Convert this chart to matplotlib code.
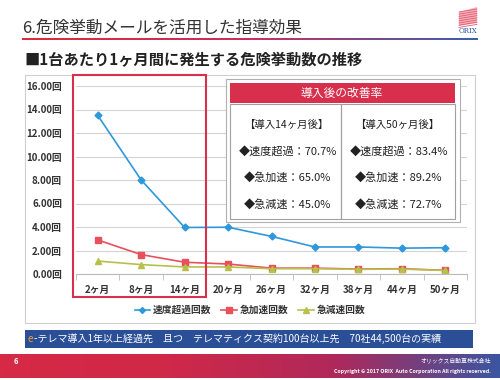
import numpy as np
import matplotlib
matplotlib.use('Agg')
import matplotlib.pyplot as plt
from matplotlib.patches import Rectangle, Polygon
from matplotlib.colors import LinearSegmentedColormap
from matplotlib.lines import Line2D

plt.rcParams['font.family'] = ['Noto Sans CJK JP', 'DejaVu Sans']

### DATA ###
months = ['2ヶ月', '8ヶ月', '14ヶ月', '20ヶ月', '26ヶ月', '32ヶ月', '38ヶ月', '44ヶ月', '50ヶ月']
speed = [13.5, 8.0, 3.96, 3.98, 3.2, 2.3, 2.3, 2.2, 2.24]
accel = [2.9, 1.65, 1.0, 0.85, 0.5, 0.5, 0.42, 0.45, 0.31]
decel = [1.1, 0.8, 0.6, 0.6, 0.45, 0.45, 0.4, 0.42, 0.3]
series_names = ['速度超過回数', '急加速回数', '急減速回数']
yticks = [0, 2, 4, 6, 8, 10, 12, 14, 16]

kinds = ['速度超過', '急加速', '急減速']
improve_14 = [70.7, 65.0, 45.0]
improve_50 = [83.4, 89.2, 72.7]

title = '6.危険挙動メールを活用した指導効果'
subtitle = '■1台あたり1ヶ月間に発生する危険挙動数の推移'
banner = '-テレマ導入1年以上経過先　且つ　テレマティクス契約100台以上先　70社44,500台の実績'

blue = '#2f97dc'
red = '#e8505b'
olive = '#b8c04a'
crimson = '#d8304c'

fig = plt.figure(figsize=(5, 3.8), dpi=100)

# background layer in pixel coordinates
bg = fig.add_axes([0, 0, 1, 1], zorder=0)
bg.axis('off')

bg.text(22, 28, title, fontsize=12, color='#333333', va='center', ha='left')
line_cmap = LinearSegmentedColormap.from_list('ul', ['#e02a3a', '#c83060', '#3a5fb0'])
bg.imshow(np.linspace(0, 1, 200).reshape(1, -1), cmap=line_cmap, aspect='auto',
          extent=(22, 478, 40, 38.5))
# ORIX logo
bg.add_patch(Polygon([(459, 12), (477, 7), (477, 23), (459, 26)], closed=True,
                     facecolor='#f4b0ba', edgecolor='none'))
for yy in np.arange(9, 25, 2.2):
    bg.plot([459, 477], [yy + 3, yy], color='#e45a70', lw=0.6)
bg.text(468, 31, 'ORIX', fontsize=5, color='#2a55a0', ha='center', va='center', family='DejaVu Serif')

bg.text(24, 60, subtitle, fontsize=11, fontweight='bold', color='#222222', va='center', ha='left')

# chart frame
bg.add_patch(Rectangle((25, 75), 450, 248, facecolor='white', edgecolor='#cfcfcf', lw=0.8))

# banner
bg.add_patch(Rectangle((25, 330), 448, 18, facecolor='#2b4f96', edgecolor='none'))
bg.text(28, 339, 'e', fontsize=7.3, color='#f0a030', va='center', ha='left')
bg.text(33.5, 339, banner, fontsize=7.2, color='white', va='center', ha='left')

# footer
foot_cmap = LinearSegmentedColormap.from_list('ft', ['#d62a45', '#d02848', '#b0285a', '#3c55a0'])
bg.imshow(np.linspace(0, 1, 300).reshape(1, -1), cmap=foot_cmap, aspect='auto',
          extent=(0, 500, 378, 354))
bg.set_xlim(0, 500)
bg.set_ylim(380, 0)
bg.text(14, 361, '6', fontsize=5.5, color='white', fontweight='bold', style='italic', va='center')
bg.text(491, 361, 'オリックス自動車株式会社', fontsize=4.2, color='white', ha='right', va='center')
bg.text(491, 371, 'Copyright © 2017 ORIX  Auto Corporation All rights reserved.', fontsize=3.8,
        color='white', ha='right', va='center', style='italic', fontweight='bold')

# line chart
ax = fig.add_axes([76 / 500, 1 - 274 / 380, 391 / 500, 188 / 380], zorder=1)
ax.patch.set_alpha(0)
x = np.arange(len(months))
ax.plot(x, speed, color=blue, marker='D', markersize=3.5, lw=1.2, label=series_names[0])
ax.plot(x, accel, color=red, marker='s', markersize=5, lw=1.2, label=series_names[1])
ax.plot(x, decel, color=olive, marker='^', markersize=4.5, lw=1.2, label=series_names[2])
ax.set_xlim(-0.5, len(months) - 0.5)
ax.set_ylim(0, 16)
ax.set_yticks(yticks)
ax.set_yticklabels(['%.2f回' % v for v in yticks], fontsize=7, fontweight='bold', color='#333333')
ax.set_xticks(x)
ax.set_xticklabels(months, fontsize=7, fontweight='bold', color='#333333')
ax.set_xticks(np.arange(-0.5, len(months)), minor=True)
ax.tick_params(axis='y', length=0, pad=10)
ax.tick_params(axis='x', which='major', length=0, pad=8)
ax.tick_params(axis='x', which='minor', length=4, color='#bbbbbb')
ax.grid(axis='y', color='#d4d4d4', lw=0.8)
ax.set_axisbelow(True)
for s in ['top', 'right', 'left']:
    ax.spines[s].set_visible(False)
ax.spines['bottom'].set_color('#bbbbbb')

handles = [Line2D([], [], color=blue, marker='D', markersize=3, lw=1.2),
           Line2D([], [], color=red, marker='s', markersize=4, lw=1.2),
           Line2D([], [], color=olive, marker='^', markersize=4, lw=1.2)]
fig.legend(handles, series_names, loc='center', bbox_to_anchor=(250 / 500, 1 - 310 / 380), ncol=3,
           frameon=False, prop={'size': 7, 'weight': 'bold'}, handlelength=1.6,
           handletextpad=0.3, columnspacing=1.0, labelcolor='#333333')

# overlay layer
top = fig.add_axes([0, 0, 1, 1], zorder=2)
top.set_xlim(0, 500)
top.set_ylim(380, 0)
top.axis('off')
top.patch.set_alpha(0)

top.add_patch(Rectangle((73, 75), 133, 222, facecolor='none', edgecolor=crimson, lw=1.5))

top.add_patch(Rectangle((226, 79), 234, 143, facecolor='white', edgecolor='#b0b0b0', lw=0.8))
top.add_patch(Rectangle((230, 83), 225, 20, facecolor=crimson, edgecolor='none'))
top.text(342, 93, '導入後の改善率', fontsize=8.5, color='white', ha='center', va='center')
for left, months_after, vals in [(230, 14, improve_14), (341, 50, improve_50)]:
    top.add_patch(Rectangle((left, 104), 114 if left == 341 else 111, 115,
                            facecolor='none', edgecolor='#a0a0a0', lw=0.8))
    cx = left + 56
    top.text(cx, 125, '【導入%dヶ月後】' % months_after, fontsize=7.5, color='#222222',
             ha='center', va='center')
    for i, (k, v) in enumerate(zip(kinds, vals)):
        top.text(cx + 2, 151 + 26.5 * i, '◆%s：%.1f%%' % (k, v), fontsize=8, color='#222222',
                 ha='center', va='center')

fig.savefig('out.png', dpi=100)
